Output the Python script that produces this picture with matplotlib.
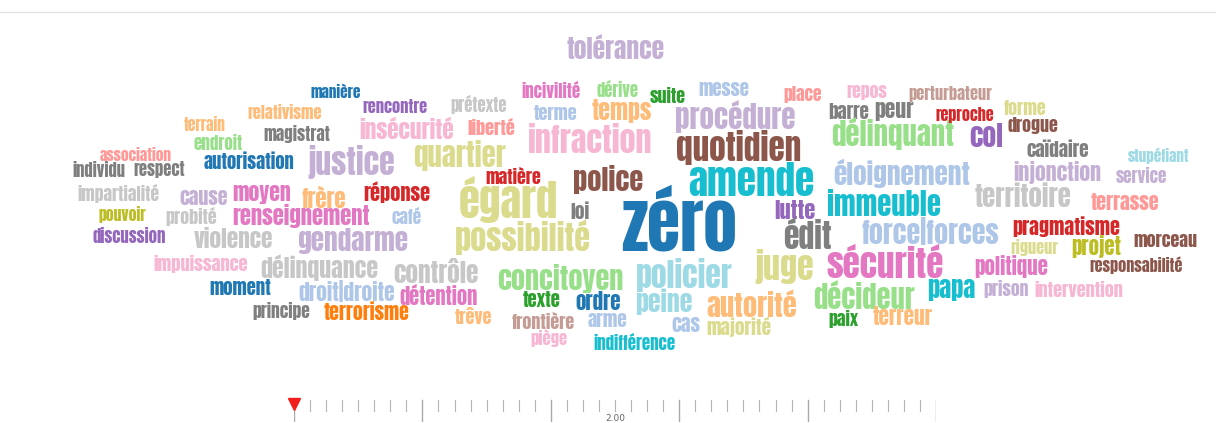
import matplotlib
matplotlib.use("Agg")
import matplotlib.pyplot as plt
from matplotlib.textpath import TextPath
from matplotlib.font_manager import FontProperties

# words of the cloud, in drawing order
words = [
    "tolérance", "manière", "rencontre", "prétexte", "incivilité", "dérive", "suite", "messe", "place", "repos",
    "perturbateur", "relativisme", "terrain", "magistrat", "endroit", "association", "autorisation", "individu", "respect", "justice",
    "insécurité", "liberté", "terme", "temps", "infraction", "quartier", "matière", "police", "procédure", "quotidien",
    "barre", "peur", "délinquant", "reproche", "forme", "drogue", "col", "caïdaire", "stupéfiant", "service",
    "injonction", "éloignement", "territoire", "terrasse", "amende", "impartialité", "cause", "moyen", "frère", "réponse",
    "pouvoir", "probité", "renseignement", "café", "égard", "loi", "zéro", "lutte", "immeuble", "discussion",
    "violence", "gendarme", "possibilité", "édit", "force|forces", "pragmatisme", "rigueur", "projet", "morceau", "impuissance",
    "délinquance", "contrôle", "concitoyen", "policier", "juge", "sécurité", "politique", "responsabilité", "moment", "droit|droite",
    "détention", "texte", "ordre", "peine", "autorité", "décideur", "papa", "prison", "intervention", "principe",
    "terrorisme", "trêve", "frontière", "arme", "cas", "majorité", "paix", "terreur", "piège", "indifférence",
]

# colour index in the tab20 palette, same order as words
color_idx = [
    9, 0, 8, 15, 12, 5, 4, 1, 7, 13,
    11, 3, 3, 14, 5, 7, 0, 14, 14, 9,
    13, 7, 1, 3, 13, 17, 6, 10, 9, 10,
    14, 14, 5, 6, 17, 10, 8, 14, 19, 9,
    9, 1, 15, 7, 18, 15, 9, 12, 3, 6,
    16, 15, 12, 1, 17, 14, 0, 8, 18, 8,
    15, 9, 17, 14, 1, 6, 17, 16, 10, 13,
    15, 15, 5, 19, 17, 12, 12, 10, 0, 1,
    12, 4, 0, 19, 3, 5, 18, 9, 13, 14,
    2, 3, 11, 1, 1, 17, 4, 3, 13, 18,
]

# layout: ink box of each word in pixels (x0, x1, y0, y1), y going down
boxes = [
    (560, 670, 36, 58), (307, 364, 84, 97), (360, 430, 100, 113), (447, 510, 97, 113), (519, 582, 82, 97),
    (595, 639, 82, 97), (648, 687, 87, 102), (700, 747, 82, 97), (783, 823, 87, 103), (847, 888, 85, 100),
    (906, 993, 87, 102), (242, 328, 105, 118), (182, 228, 117, 130), (260, 333, 126, 142), (191, 245, 135, 149),
    (96, 175, 147, 160), (200, 297, 152, 168), (72, 125, 162, 177), (132, 187, 162, 177), (305, 398, 147, 178),
    (356, 457, 117, 138), (467, 517, 118, 135), (533, 579, 105, 120), (590, 653, 100, 122), (523, 658, 125, 152),
    (407, 513, 142, 168), (483, 543, 167, 183), (566, 650, 168, 192), (665, 805, 103, 130), (667, 810, 133, 163),
    (827, 870, 103, 118), (873, 915, 103, 120), (824, 961, 120, 148), (932, 997, 108, 122), (1003, 1047, 100, 115),
    (1005, 1060, 117, 133), (970, 1002, 123, 147), (1025, 1090, 140, 157), (1125, 1193, 148, 163), (1115, 1168, 168, 183),
    (1008, 1107, 162, 182), (823, 980, 160, 186), (973, 1073, 183, 207), (1090, 1160, 193, 210), (685, 817, 163, 195),
    (73, 163, 185, 202), (180, 227, 190, 205), (232, 292, 185, 203), (300, 347, 186, 207), (360, 433, 182, 202),
    (97, 148, 207, 222), (162, 220, 208, 225), (227, 376, 205, 227), (390, 423, 208, 223), (457, 560, 178, 222),
    (570, 590, 202, 218), (611, 747, 190, 245), (773, 816, 200, 218), (822, 946, 191, 215), (92, 167, 228, 243),
    (193, 275, 227, 248), (293, 412, 228, 253), (447, 599, 222, 253), (782, 834, 220, 248), (862, 998, 217, 245),
    (1007, 1125, 218, 237), (1008, 1062, 240, 255), (1070, 1123, 237, 257), (1135, 1196, 233, 247), (148, 252, 255, 272),
    (258, 380, 255, 280), (390, 482, 259, 282), (492, 627, 265, 292), (632, 737, 260, 290), (752, 817, 250, 282),
    (822, 947, 245, 277), (970, 1053, 257, 276), (1082, 1191, 258, 273), (207, 273, 280, 295), (298, 395, 281, 302),
    (400, 478, 285, 305), (522, 562, 292, 307), (575, 622, 293, 310), (632, 695, 290, 314), (705, 797, 290, 317),
    (810, 918, 282, 308), (928, 975, 280, 301), (982, 1030, 280, 297), (1035, 1123, 280, 297), (251, 311, 303, 320),
    (323, 410, 302, 320), (453, 493, 307, 323), (508, 578, 312, 328), (587, 627, 313, 327), (672, 700, 317, 332),
    (705, 773, 317, 337), (828, 860, 310, 327), (872, 933, 307, 325), (530, 568, 330, 347), (593, 676, 334, 350),
]

# slider
slider_min, slider_max, slider_step = 1.0, 3.0, 0.05
slider_major = 8
slider_label = "2.00"

W, H = 1216, 423
fig = plt.figure(figsize=(W / 100, H / 100), dpi=100)
ax = fig.add_axes([0, 0, 1, 1])
ax.set_xlim(0, W)
ax.set_ylim(H, 0)
ax.axis("off")

ax.axhline(12, color="#e3e3e3", lw=1)

# Anton is close to the Impact face of the original (a bit narrower, so
# the size is a compromise between fitting the width and the height)
fp = FontProperties(family=["Anton", "Liberation Sans Narrow", "DejaVu Sans"])
px = 100 / 72
cmap = plt.get_cmap("tab20")

for word, ci, (x0, x1, y0, y1) in zip(words, color_idx, boxes):
    e = TextPath((0, 0), word, size=10, prop=fp).get_extents()
    fs_w = 10 * (x1 - x0) / (e.width * px)
    fs_h = 10 * (y1 - y0) / (e.height * px)
    fs = (fs_w * fs_h) ** 0.5
    k = fs / 10 * px
    cx, cy = (x0 + x1) / 2, (y0 + y1) / 2
    f = fp.copy()
    f.set_size(fs)
    ax.text(cx - (e.x0 + e.width / 2) * k, cy + (e.y0 + e.height / 2) * k, word,
            fontproperties=f, color=cmap(ci), ha="left", va="baseline")

# slider
sax = fig.add_axes([294 / W, 1 / H, (936 - 294) / W, 24 / H])
sax.set_xlim(slider_min, slider_max)
sax.set_ylim(0, 1)
sax.axis("off")
n = int(round((slider_max - slider_min) / slider_step))
for i in range(n + 1):
    v = slider_min + i * slider_step
    if i % slider_major == 0:
        sax.plot([v, v], [0.04, 0.92], color="#aaaaaa", lw=1)
    else:
        sax.plot([v, v], [0.46, 0.92], color="#b5b5b5", lw=0.8)
sax.text(float(slider_label), 0.16, slider_label, ha="center", va="center", fontsize=6.5, color="#666666")
sax.plot([slider_min], [0.77], marker="v", markersize=8, color="#f21d1d", clip_on=False)

fig.savefig("out.png", dpi=100)
